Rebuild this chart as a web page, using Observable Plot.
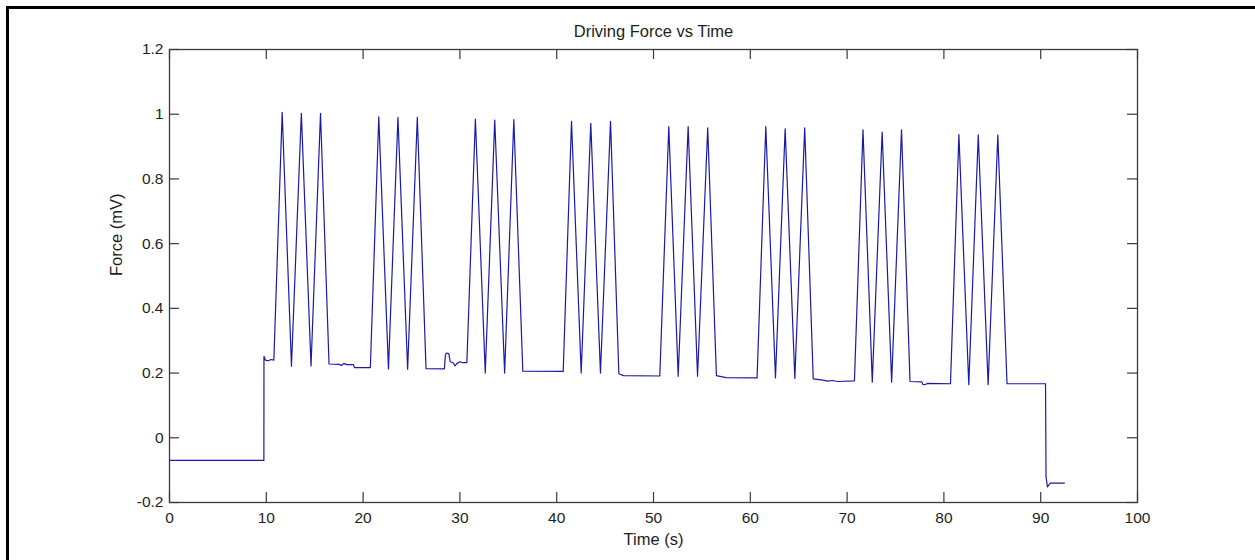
<!DOCTYPE html>
<html><head><meta charset="utf-8">
<script src="https://cdn.jsdelivr.net/npm/d3@7"></script>
<script src="https://cdn.jsdelivr.net/npm/@observablehq/plot@0.6"></script>
<style>
html,body{margin:0;padding:0;background:#fff;overflow:hidden;width:1255px;height:560px}
#frame{position:absolute;left:6px;top:6px;width:1249px;height:554px;border-left:3px solid #000;border-top:3px solid #000;box-sizing:border-box}
#chart{position:absolute;left:0;top:0}
</style></head><body>
<div id="frame"></div><div id="chart"></div>
<script>
const title = "Driving Force vs Time";
const xLabel = "Time (s)";
const yLabel = "Force (mV)";
const xTicks = [0,10,20,30,40,50,60,70,80,90,100];
const yTicks = [-0.2,0,0.2,0.4,0.6,0.8,1.0,1.2];

// time (s) and force (mV)
const time = [
  0, 9.75, 9.76, 9.9, 10.2, 10.5, 10.78,
  11.64, 12.6, 13.62, 14.62, 15.6, 16.48,
  17.5, 17.8, 18.0, 18.3, 19.0, 19.1, 20.75,
  21.62, 22.62, 23.6, 24.6, 25.6, 26.5,
  28.4, 28.5, 28.6, 28.85, 29.0, 29.3, 29.5, 29.7, 30.0, 30.3, 30.72,
  31.6, 32.62, 33.6, 34.62, 35.57, 36.5,
  40.67,
  41.53, 42.53, 43.52, 44.52, 45.56, 46.42, 46.9, 50.65,
  51.58, 52.55, 53.58, 54.55, 55.6, 56.5, 57.5, 60.7,
  61.6, 62.6, 63.6, 64.6, 65.62, 66.5, 67.5, 68.0, 68.5, 69.0, 70.76,
  71.64, 72.6, 73.62, 74.6, 75.62, 76.5, 77.7, 77.85, 78.1, 78.3, 80.68,
  81.55, 82.57, 83.55, 84.57, 85.57, 86.52, 90.5,
  90.55, 90.7, 90.85, 91.0, 92.45
];
const force = [
  -0.07, -0.07, 0.252, 0.24, 0.238, 0.242, 0.24,
  1.006, 0.221, 1.003, 0.222, 1.003, 0.228,
  0.227, 0.224, 0.23, 0.226, 0.226, 0.217, 0.217,
  0.992, 0.213, 0.99, 0.212, 0.99, 0.214,
  0.213, 0.255, 0.262, 0.26, 0.235, 0.232, 0.222, 0.23, 0.235, 0.232, 0.232,
  0.985, 0.2, 0.982, 0.2, 0.983, 0.206,
  0.205,
  0.978, 0.2, 0.972, 0.2, 0.978, 0.198, 0.192, 0.191,
  0.962, 0.19, 0.962, 0.19, 0.958, 0.192, 0.186, 0.185,
  0.962, 0.185, 0.955, 0.183, 0.958, 0.182, 0.178, 0.175, 0.177, 0.174, 0.176,
  0.952, 0.172, 0.945, 0.172, 0.952, 0.174, 0.173, 0.164, 0.165, 0.168, 0.167,
  0.937, 0.164, 0.936, 0.164, 0.936, 0.167, 0.167,
  -0.12, -0.152, -0.145, -0.14, -0.14
];

const data = time.map((t, i) => ({t, f: force[i]}));
const fmt = d => String(+d.toFixed(1));
const font = "'Liberation Sans', Arial, Helvetica, sans-serif";
const axisColor = "#3a3a3a";

const chart = Plot.plot({
  width: 1255, height: 560,
  marginLeft: 169, marginRight: 118, marginTop: 49, marginBottom: 58,
  style: {fontFamily: font, fontSize: "15.5px", color: "#1e1e1e", background: "transparent"},
  x: {domain: [0, 100]},
  y: {domain: [-0.2, 1.2]},
  marks: [
    Plot.line(data, {x: "t", y: "f", stroke: "#1a1aa6", strokeWidth: 1.2}),
    Plot.frame({stroke: axisColor, strokeWidth: 1.3}),
    // inward ticks on all four sides
    Plot.ruleX(xTicks, {x: d => d, y1: -0.2, y2: -0.2, insetTop: -10, stroke: axisColor, strokeWidth: 1.2}),
    Plot.ruleX(xTicks, {x: d => d, y1: 1.2, y2: 1.2, insetBottom: -10, stroke: axisColor, strokeWidth: 1.2}),
    Plot.ruleY(yTicks, {y: d => d, x1: 0, x2: 0, insetRight: -10, stroke: axisColor, strokeWidth: 1.2}),
    Plot.ruleY(yTicks, {y: d => d, x1: 100, x2: 100, insetLeft: -10, stroke: axisColor, strokeWidth: 1.2}),
    Plot.axisX(xTicks, {tickSize: 0, tickPadding: 9, tickFormat: fmt, label: null, fontSize: 15.5}),
    Plot.axisY(yTicks, {tickSize: 0, tickPadding: 6, tickFormat: fmt, label: null, fontSize: 15.5}),
    Plot.text([title], {frameAnchor: "top", dy: -13, lineAnchor: "bottom", fontSize: 16.5, fill: "#1e1e1e"}),
    Plot.text([xLabel], {frameAnchor: "bottom", dy: 42, lineAnchor: "bottom", fontSize: 16.5, fill: "#1e1e1e"}),
    Plot.text([yLabel], {frameAnchor: "left", dx: -53, rotate: -90, lineAnchor: "middle", fontSize: 16.5, fill: "#1e1e1e"})
  ]
});
document.getElementById("chart").appendChild(chart);
</script>
</body></html>
